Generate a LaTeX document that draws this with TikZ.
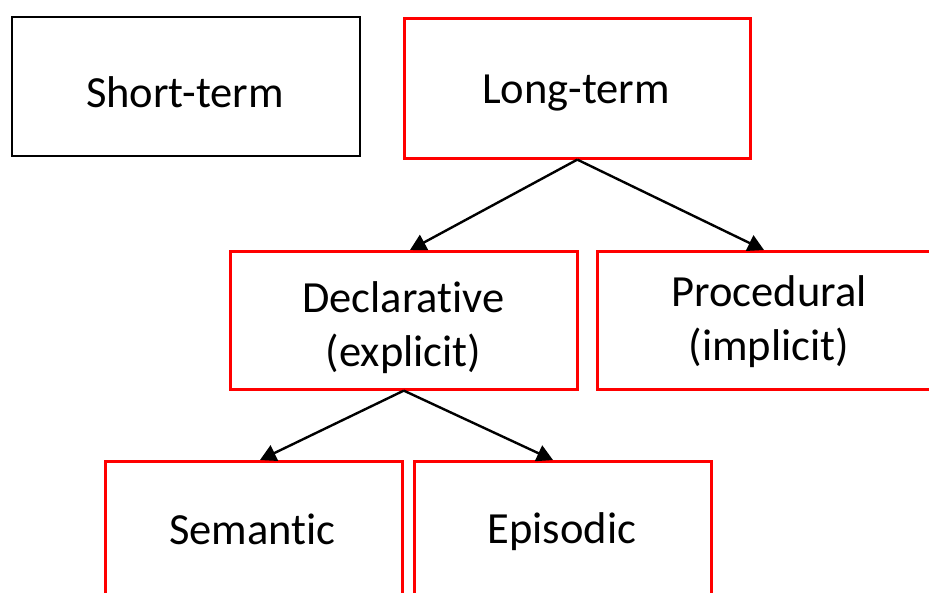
\documentclass[tikz,border=0pt]{standalone}
\usepackage{fontspec}
\setmainfont[Ligatures=NoCommon]{Carlito}
\usetikzlibrary{arrows.meta}

\tikzset{
  memframe/.style={draw=black, line width=2.4pt, rectangle, inner sep=0pt, anchor=north west},
  redframe/.style={memframe, draw={rgb,255:red,255;green,0;blue,0}, line width=2.6pt},
  caption/.style={anchor=base, inner sep=0pt, font=\fontsize{44.5}{54}\selectfont},
  link/.style={line width=2.4pt, -{Triangle[length=16pt,width=17pt]}}
}

\begin{document}
\begin{tikzpicture}[x=1pt, y=-1pt]
  \useasboundingbox (0,0) rectangle (929,592);
  \clip (0,0) rectangle (929,592);
  \fill[white] (0,0) rectangle (929,592);

  % boxes
  \node[memframe, minimum width=348pt, minimum height=139pt] (short) at (11,16) {};
  \node[redframe, minimum width=346pt, minimum height=140pt] (long) at (403,17) {};
  \node[redframe, minimum width=347pt, minimum height=138pt] (decl) at (229,250) {};
  \node[redframe, minimum width=347pt, minimum height=138pt] (proc) at (596,250) {};
  \node[redframe, minimum width=297pt, minimum height=150pt] (sem) at (104,460) {};
  \node[redframe, minimum width=297pt, minimum height=150pt] (epi) at (413,460) {};

  % labels
  \node[caption] (shortT) at (185,107) {Short-term};
  \node[caption] (longT) at (576,103) {Long-term};
  \node[caption] (declA) at (403.5,312) {Declarative};
  \node[caption] (declB) at (403.5,366) {(explicit)};
  \node[caption] (procA) at (769,306) {Procedural};
  \node[caption] (procB) at (769,360) {(implicit)};
  \node[caption] (semT) at (252.5,544) {Semantic};
  \node[caption] (epiT) at (562,543) {Episodic};

  % hierarchy links
  \draw[link] (long.south) -- ([xshift=181pt]decl.north west);
  \draw[link] (long.south) -- ([xshift=168pt]proc.north west);
  \draw[link] (decl.south) -- ([xshift=156pt]sem.north west);
  \draw[link] (decl.south) -- ([xshift=140pt]epi.north west);
\end{tikzpicture}
\end{document}
